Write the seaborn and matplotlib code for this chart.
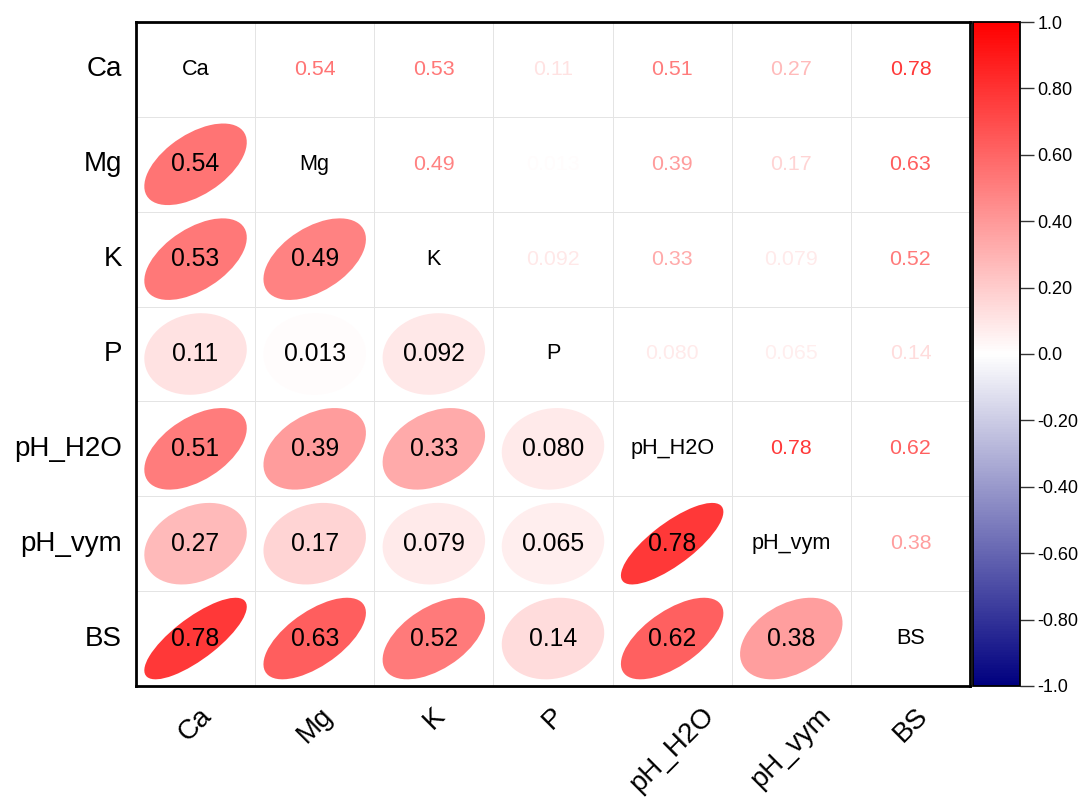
import numpy as np
import pandas as pd
import seaborn as sns
import matplotlib
matplotlib.use("Agg")
import matplotlib.pyplot as plt
from matplotlib.patches import Ellipse
from matplotlib.colors import LinearSegmentedColormap, ListedColormap, Normalize
from matplotlib.cm import ScalarMappable

# Soil chemistry variables
variables = ["Ca", "Mg", "K", "P", "pH_H2O", "pH_vym", "BS"]

# Pearson correlations, upper triangle row by row
r_ca = [0.54, 0.53, 0.11, 0.51, 0.27, 0.78]
r_mg = [0.49, 0.013, 0.39, 0.17, 0.63]
r_k = [0.092, 0.33, 0.079, 0.52]
r_p = [0.080, 0.065, 0.14]
r_ph_h2o = [0.78, 0.62]
r_ph_vym = [0.38]

cbar_ticks = [-1.0, -0.8, -0.6, -0.4, -0.2, 0.0, 0.2, 0.4, 0.6, 0.8, 1.0]
cbar_labels = ["-1.0", "-0.80", "-0.60", "-0.40", "-0.20", "0.0",
               "0.20", "0.40", "0.60", "0.80", "1.0"]

n = len(variables)
corr = np.eye(n)
for i, row in enumerate([r_ca, r_mg, r_k, r_p, r_ph_h2o, r_ph_vym]):
    corr[i, i + 1:] = row
    corr[i + 1:, i] = row
df = pd.DataFrame(corr, index=variables, columns=variables)


def fmt(v):
    return f"{v:.3f}" if abs(v) < 0.1 else f"{v:.2f}"


sns.set_style("white")
plt.rcParams["font.family"] = ["Liberation Sans", "DejaVu Sans"]
plt.rcParams["axes.unicode_minus"] = False
plt.rcParams["text.color"] = "black"
plt.rcParams["xtick.color"] = "black"
plt.rcParams["ytick.color"] = "black"
plt.rcParams["xtick.labelcolor"] = "black"
plt.rcParams["ytick.labelcolor"] = "black"

fig = plt.figure(figsize=(10.86, 7.98), dpi=100)
ax = fig.add_axes([0.1252, 0.1404, 0.768, 0.832])
cax = fig.add_axes([0.8955, 0.1404, 0.0433, 0.832])

cmap = LinearSegmentedColormap.from_list("corr_bwr", ["#00007F", "#FFFFFF", "#FF0000"])
norm = Normalize(vmin=-1, vmax=1)

# white cells with a light grid
sns.heatmap(df, ax=ax, cmap=ListedColormap(["white"]), cbar=False,
            linewidths=0.7, linecolor="#e4e4e4")

s = 0.43
for i in range(n):
    for j in range(n):
        r = df.iloc[i, j]
        cx, cy = j + 0.5, i + 0.5
        if i == j:
            ax.text(cx, cy, variables[i], ha="center", va="center",
                    fontsize=15.6, color="black")
        elif i > j:
            ell = Ellipse((cx, cy), width=2 * s * np.sqrt(1 + r),
                          height=2 * s * np.sqrt(1 - r), angle=-45 if r >= 0 else 45,
                          facecolor=cmap(norm(r)), edgecolor="none", zorder=2)
            ax.add_patch(ell)
            ax.text(cx, cy, fmt(r), ha="center", va="center",
                    fontsize=17.8, color="black", zorder=3)
        else:
            ax.text(cx, cy, fmt(r), ha="center", va="center",
                    fontsize=15.4, color=cmap(norm(r)), zorder=3)

for sp in ax.spines.values():
    sp.set_visible(True)
    sp.set_color("black")
    sp.set_linewidth(2)

ax.tick_params(axis="both", length=0)
ax.tick_params(axis="x", pad=12)
ax.tick_params(axis="y", pad=10)
ax.set_xticklabels(variables, rotation=45, ha="center", va="top", fontsize=20)
ax.set_yticklabels(variables, rotation=0, fontsize=20)
ax.set_xlabel("")
ax.set_ylabel("")

sm = ScalarMappable(norm=norm, cmap=cmap)
cbar = fig.colorbar(sm, cax=cax)
cbar.set_ticks(cbar_ticks)
cbar.set_ticklabels(cbar_labels)
cbar.outline.set_linewidth(1.3)
cbar.outline.set_edgecolor("black")
cax.tick_params(length=10, width=1, color="#333333", labelsize=13, pad=3,
                labelcolor="black")

fig.savefig("out.png", dpi=100)
